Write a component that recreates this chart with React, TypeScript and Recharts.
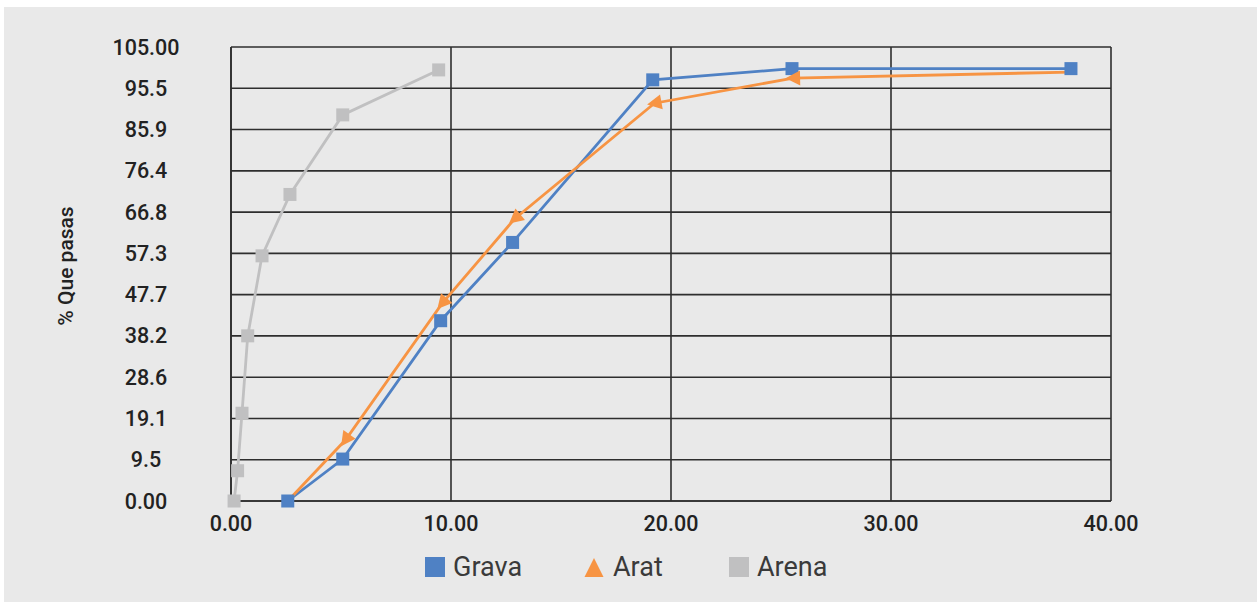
import React from 'react';
import { LineChart, Line, XAxis, YAxis, CartesianGrid } from 'recharts';

const seriesNames = ['Grava', 'Arat', 'Arena'];
const seriesColors = ['#4f81c4', '#f79443', '#c0c0c1'];

const gravaX = [2.58, 5.08, 9.53, 12.8, 19.17, 25.5, 38.18];
const gravaY = [0, 9.7, 41.7, 59.8, 97.4, 100, 100];

const aratX = [2.58, 5.2, 9.6, 12.9, 19.25, 25.55, 38.18];
const aratY = [0, 14.1, 45.7, 65.3, 92.0, 97.8, 99.2];

const arenaX = [0.14, 0.3, 0.5, 0.76, 1.41, 2.68, 5.08, 9.44];
const arenaY = [0, 7.0, 20.3, 38.2, 56.7, 70.9, 89.3, 99.7];

const xTicks = [0, 10, 20, 30, 40];
const xTickLabels = ['0.00', '10.00', '20.00', '30.00', '40.00'];
const yTicks = [0, 9.545, 19.09, 28.636, 38.18, 47.727, 57.27, 66.818, 76.36, 85.909, 95.45, 105];
const yTickLabels = ['0.00', '9.5', '19.1', '28.6', '38.2', '47.7', '57.3', '66.8', '76.4', '85.9', '95.5', '105.00'];
const yAxisTitle = '% Que pasas';

const toPoints = (xs: number[], ys: number[]) => xs.map((x, i) => ({ x, y: ys[i] }));
const gravaData = toPoints(gravaX, gravaY);
const aratData = toPoints(aratX, aratY);
const arenaData = toPoints(arenaX, arenaY);

const FONT = 'Roboto, "Noto Sans", sans-serif';

const squareDot = (color: string) => (props: any) => {
  const { cx, cy, index } = props;
  if (cx == null || cy == null) return <g key={`s-${index}`} />;
  return <rect key={`s-${index}`} x={cx - 6.5} y={cy - 6.5} width={13} height={13} fill={color} />;
};

const arrowDot = (props: any) => {
  const { cx, cy, index, points } = props;
  const n = aratX.length;
  if (cx == null || cy == null || index === 0 || index === n - 1) return <g key={`a-${index}`} />;
  let ang = -90;
  if (points && points[index + 1]) {
    const nx = points[index + 1].x;
    const ny = points[index + 1].y;
    ang = (Math.atan2(cy - ny, cx - nx) * 180) / Math.PI;
  }
  return (
    <polygon
      key={`a-${index}`}
      points="7.5,0 -7,-7.5 -7,7.5"
      transform={`translate(${cx},${cy}) rotate(${ang})`}
      fill={seriesColors[1]}
    />
  );
};

const XTick = (props: any) => {
  const { x, y, payload, index } = props;
  const i = xTicks.indexOf(payload.value);
  return (
    <text x={x} y={y + 14} textAnchor="middle" dominantBaseline="central" fill="#222" fontSize={21.5} fontWeight={500} fontFamily={FONT}>
      {xTickLabels[i >= 0 ? i : index]}
    </text>
  );
};

const YTick = (props: any) => {
  const { x, y, payload, index } = props;
  const i = yTicks.indexOf(payload.value);
  return (
    <text x={x - 77} y={y} textAnchor="middle" dominantBaseline="central" fill="#222" fontSize={21.5} fontWeight={500} fontFamily={FONT}>
      {yTickLabels[i >= 0 ? i : index]}
    </text>
  );
};

const YTitle = (props: any) => {
  const vb = props.viewBox || { x: 131, y: 47, width: 100, height: 454 };
  const cx = vb.x - 65;
  const cy = vb.y + vb.height / 2 - 8;
  return (
    <text x={cx} y={cy} transform={`rotate(-90, ${cx}, ${cy})`} textAnchor="middle" dominantBaseline="central" fill="#222" fontSize={21} fontWeight={500} fontFamily={FONT}>
      {yAxisTitle}
    </text>
  );
};

const LegendMarker = ({ i }: { i: number }) => {
  if (i === 1) {
    return (
      <svg width={20} height={20} style={{ display: 'block' }}>
        <polygon points="10,1 19.5,20 0.5,20" fill={seriesColors[1]} />
      </svg>
    );
  }
  return <div style={{ width: 20, height: 20, background: seriesColors[i] }} />;
};

export default function App() {
  const legendLeft = [425, 584, 729];
  return (
    <div style={{ position: 'absolute', left: 0, top: 0, width: 1257, height: 602, background: '#ffffff', overflow: 'hidden' }}>
      <div style={{ position: 'absolute', left: 4, top: 7, width: 1253, height: 595, background: '#e9e9e9' }} />
      <div style={{ position: 'absolute', left: 0, top: 0 }}>
        <LineChart width={1257} height={602} margin={{ top: 47, right: 146, bottom: 71, left: 131 }}>
          <CartesianGrid stroke="#2e2e2e" strokeWidth={1.6} />
          <XAxis
            type="number"
            dataKey="x"
            domain={[0, 40]}
            ticks={xTicks}
            height={30}
            tick={<XTick />}
            tickLine={false}
            axisLine={{ stroke: '#2e2e2e', strokeWidth: 1.6 }}
          />
          <YAxis
            type="number"
            dataKey="y"
            domain={[0, 105]}
            ticks={yTicks}
            width={100}
            tick={<YTick />}
            tickLine={false}
            axisLine={{ stroke: '#2e2e2e', strokeWidth: 1.6 }}
            label={{ content: <YTitle /> }}
          />
          <Line
            data={gravaData}
            dataKey="y"
            name={seriesNames[0]}
            stroke={seriesColors[0]}
            strokeWidth={2.8}
            dot={squareDot(seriesColors[0])}
            activeDot={false}
            isAnimationActive={false}
          />
          <Line
            data={aratData}
            dataKey="y"
            name={seriesNames[1]}
            stroke={seriesColors[1]}
            strokeWidth={2.8}
            dot={arrowDot}
            activeDot={false}
            isAnimationActive={false}
          />
          <Line
            data={arenaData}
            dataKey="y"
            name={seriesNames[2]}
            stroke={seriesColors[2]}
            strokeWidth={2.8}
            dot={squareDot(seriesColors[2])}
            activeDot={false}
            isAnimationActive={false}
          />
        </LineChart>
      </div>
      {seriesNames.map((name, i) => (
        <div
          key={name}
          style={{ position: 'absolute', left: legendLeft[i], top: 554, height: 26, display: 'flex', alignItems: 'center', fontFamily: FONT, fontSize: 27, color: '#3a3a3a' }}
        >
          <LegendMarker i={i} />
          <span style={{ marginLeft: i === 1 ? 9 : 8, lineHeight: '26px' }}>{name}</span>
        </div>
      ))}
    </div>
  );
}
